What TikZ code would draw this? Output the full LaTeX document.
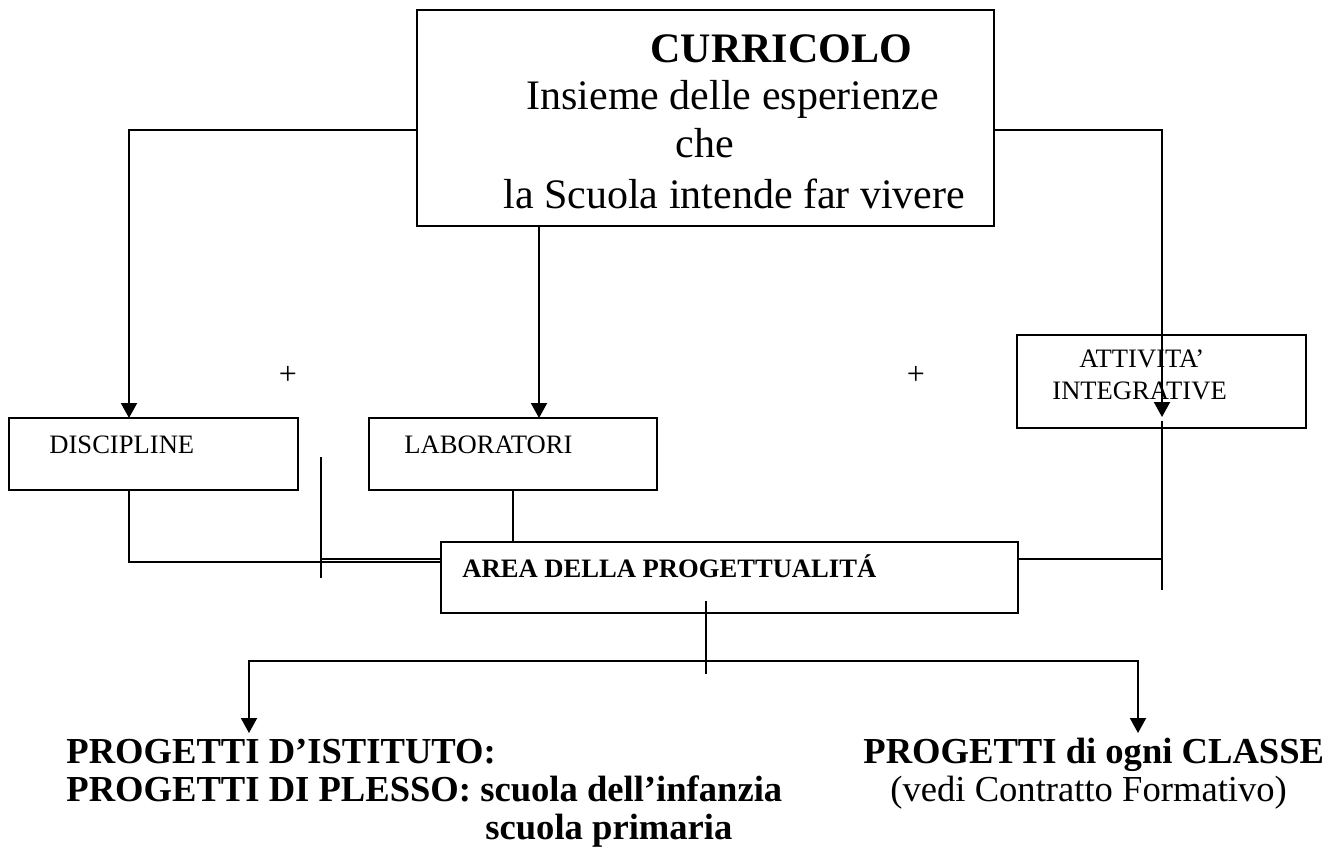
\documentclass[tikz,border=0pt]{standalone}
\usepackage{fontspec}
\setmainfont{Liberation Serif}
\usetikzlibrary{arrows.meta, positioning}
\newcommand{\bigsz}{\fontsize{21}{25}\selectfont}
\newcommand{\smallsz}{\fontsize{13.3}{16}\selectfont}
\newcommand{\bottomsz}{\fontsize{18.3}{22}\selectfont}
\tikzset{%
  box/.style={draw, line width=1pt, inner sep=0pt},
  line/.style={line width=1pt},
  arr/.style={line width=1pt, -{Triangle[length=7.5pt, width=8pt]}},
  txt/.style={anchor=base west, inner sep=0pt},
}
\begin{document}
\begin{tikzpicture}[x=0.5pt, y=-0.5pt]
  \useasboundingbox (0,0) rectangle (1340,859);
  % boxes
  \node[box, minimum width=288.5pt, minimum height=108pt] (curr) at (705.5,118) {};
  \node[box, minimum width=144.5pt, minimum height=36pt] (disc) at (153.5,454) {};
  \node[box, minimum width=144pt, minimum height=36pt] (lab) at (513,454) {};
  \node[box, minimum width=144.5pt, minimum height=46.5pt] (att) at (1161.5,381.5) {};
  \node[box, minimum width=288.5pt, minimum height=35.5pt] (area) at (729.5,577.5) {};
  % texts
  \node[txt, font=\bigsz\bfseries] (curr-t1) at (650,62) {CURRICOLO};
  \node[txt, font=\bigsz] (curr-t2) at (526,109) {Insieme delle esperienze};
  \node[txt, font=\bigsz] (curr-t3) at (675,157) {che};
  \node[txt, font=\bigsz] (curr-t4) at (503,208) {la Scuola intende far vivere};
  \node[txt, font=\smallsz] (disc-t) at (49,453) {DISCIPLINE};
  \node[txt, font=\smallsz] (lab-t) at (404,453) {LABORATORI};
  \node[txt, font=\smallsz] (att-t1) at (1079,367) {ATTIVITA’};
  \node[txt, font=\smallsz] (att-t2) at (1052,399) {INTEGRATIVE};
  \node[txt, font=\smallsz\bfseries] (area-t) at (462,577) {AREA DELLA PROGETTUALITÁ};
  \node[font=\fontsize{16}{18}\selectfont, inner sep=0pt] (plus1) at (288,375) {+};
  \node[font=\fontsize{16}{18}\selectfont, inner sep=0pt] (plus2) at (916,375) {+};
  \node[txt, font=\bottomsz\bfseries] (pi1) at (66,763) {PROGETTI D’ISTITUTO:};
  \node[txt, font=\bottomsz\bfseries] (pi2) at (66,801) {PROGETTI DI PLESSO: scuola dell’infanzia};
  \node[txt, font=\bottomsz\bfseries] (pi3) at (485,839) {scuola primaria};
  \node[txt, font=\bottomsz\bfseries] (pc1) at (863,763) {PROGETTI di ogni CLASSE};
  \node[txt, font=\bottomsz] (pc2) at (890,801) {(vedi Contratto Formativo)};
  % connector points
  \coordinate (disc in) at (129,418);
  \coordinate (lab in) at (539,418);
  \coordinate (att in) at (1162,417);
  \coordinate (att out) at (1162,421);
  \coordinate (att end) at (1162,590);
  \coordinate (area in) at (441,562);
  \coordinate (bar top) at (321,457);
  \coordinate (bar bot) at (321,578);
  \coordinate (split top) at (706,601);
  \coordinate (split bot) at (706,674);
  \coordinate (fork) at (706,661);
  \coordinate (pi tip) at (249,733);
  \coordinate (pc tip) at (1138,733);
  % top connectors
  \draw[arr] ([yshift=-6pt]curr.west) -| (disc in);
  \draw[arr] (curr.south -| lab in) -- (lab in);
  \draw[arr] ([yshift=-6pt]curr.east) -| (att in);
  \draw[line] (att out) -- (att end);
  % into the area
  \draw[line] (disc.south -| disc in) |- (area in);
  \draw[line] (bar top) -- (bar bot);
  \draw[line] ([yshift=1.5pt]bar top |- area in) -- ([yshift=1.5pt]area in);
  \draw[line] (lab.south) -- (lab.south |- area.north);
  \draw[line] ([yshift=9.25pt]area.east) -- ([yshift=9.25pt]area.east -| att end);
  % bottom connectors
  \draw[line] (split top) -- (split bot);
  \draw[arr] (fork) -| (pi tip);
  \draw[arr] (fork) -| (pc tip);
\end{tikzpicture}
\end{document}
